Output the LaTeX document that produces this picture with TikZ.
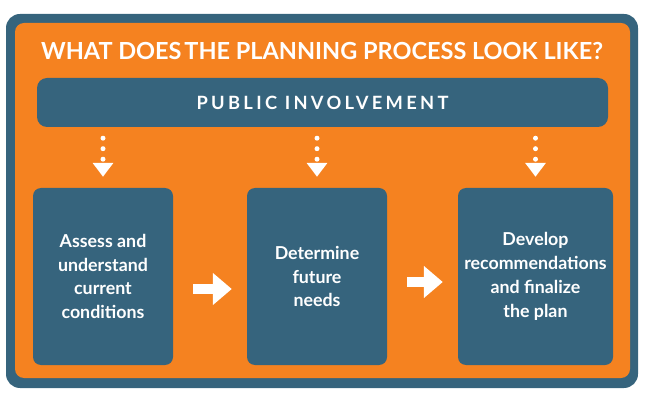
\documentclass[tikz,border=0pt]{standalone}
\usepackage{fontspec}
\setmainfont{Lato}
\newfontfamily\spacedfont[LetterSpace=18]{Lato}
\usetikzlibrary{arrows.meta}
\definecolor{planblue}{RGB}{54,100,125}
\definecolor{planorange}{RGB}{245,130,32}

\begin{document}
\begin{tikzpicture}[x=1pt,y=-1pt,
    stepbox/.style={fill=planblue,rounded corners=8pt,text=white,inner sep=0pt,
      align=center,font=\fontsize{17.8}{23.8}\selectfont\bfseries},
    dotarrow/.style={white,line width=5pt,line cap=round,dash pattern=on 0pt off 10.5pt,
      -{Triangle[width=20pt,length=14pt]},shorten <=11pt,shorten >=11pt},
    flowarrow/.style={white,line width=10pt,-{Triangle[width=31pt,length=19pt]},
      shorten <=20pt,shorten >=15pt}]
    \useasboundingbox (0,0) rectangle (645,403);
    % frame
    \fill[planblue,rounded corners=14pt] (6,14) rectangle (638,388);
    \fill[planorange,rounded corners=9pt] (15,23) rectangle (630,378);
    \node[anchor=base,text=white,font=\fontsize{23.5}{26}\selectfont\bfseries] (title) at (322,60)
      {WHAT DOES\hspace{0.12em}THE PLANNING PROCESS LOOK LIKE?};
    \node[fill=planblue,rounded corners=10pt,minimum width=571pt,minimum height=49pt,
      text=white,font=\fontsize{18.3}{20}\spacedfont\bfseries] (pub) at (322.5,102.5) {PUBLIC INVOLVEMENT};
    % steps
    \node[stepbox,minimum width=140pt,minimum height=177pt] (assess) at (103,276.5)
      {Assess and\\understand\\current\\conditions};
    \node[stepbox,minimum width=140pt,minimum height=177pt] (determine) at (317,276.5)
      {Determine\\future\\needs};
    \node[stepbox,minimum width=155pt,minimum height=177pt] (develop) at (535.5,276.5)
      {Develop\\recommendations\\and finalize\\the plan};
    \foreach \s in {assess,determine,develop}
      \draw[dotarrow] (pub.south -| \s.north) -- (\s.north);
    \draw[flowarrow] ([yshift=-12.5pt]assess.east) -- ([yshift=-12.5pt]determine.west);
    \draw[flowarrow] ([yshift=-5.5pt]determine.east) -- ([yshift=-5.5pt]develop.west);
\end{tikzpicture}
\end{document}
